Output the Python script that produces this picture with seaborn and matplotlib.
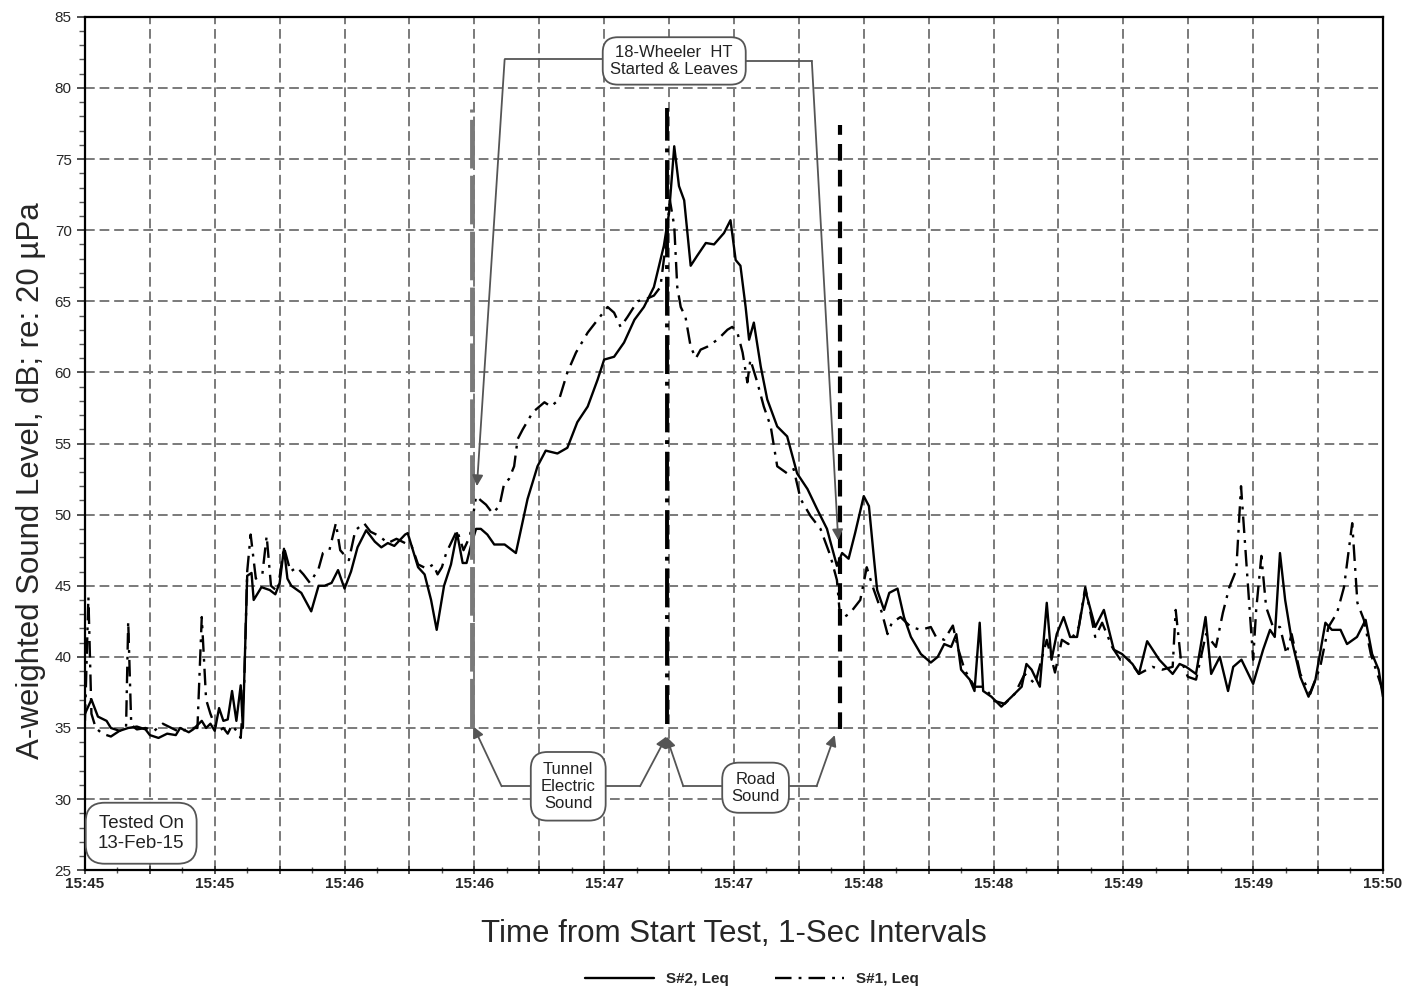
import numpy as np
import pandas as pd
import matplotlib
matplotlib.use("Agg")
import matplotlib.pyplot as plt
import seaborn as sns

# seconds from 15:45:00 and A-weighted level (dB)
s2_time = [0, 1.5, 3, 5, 6, 8, 10, 12, 14, 15, 17, 19, 21, 22, 24, 25, 27, 28, 29, 30,
           31, 32, 33, 34, 35, 36, 36.5, 37.5, 38.5, 39, 40.8, 42.7, 44, 45, 46, 46.8,
           47.7, 50, 52.3, 54, 55.4, 57, 58.5, 60, 61.5, 63, 65, 67, 68.5, 70, 71.5, 74,
           74.6, 77, 78.5, 80, 81.3, 83, 84.6, 86, 87.3, 88.2, 89.2, 90.4, 91.5, 93, 94.6,
           97, 99.6, 102.3, 104.6, 106.5, 109.2, 111.5, 113.8, 116.2, 118.5, 120, 122.3,
           124.6, 127, 129.2, 131.5, 133.8, 135, 136.2, 137.3, 138.5, 140, 141.5, 143.5,
           145.4, 147.7, 149.2, 150.4, 151.5, 152.7, 153.5, 154.6, 156.2, 157.7, 160,
           162.3, 164.6, 167, 169.2, 171.5, 173.8, 175, 176.5, 178, 180, 181.2, 182.4,
           183.1, 184.7, 185.9, 187.8, 189.3, 190.9, 193.2, 195.5, 197.1, 198.6, 200.2,
           201.4, 202.5, 204.5, 205.6, 206.8, 207.6, 209.5, 211.8, 214.2, 216.5, 217.6,
           218.8, 220.7, 222.3, 223.4, 224.6, 226.2, 227.7, 229.3, 231.2, 233.5, 235.5,
           237.8, 239.7, 242.1, 243.6, 245.5, 248.3, 251.4, 253, 254.5, 256.8, 259, 260.3,
           262.3, 264.2, 265.4, 267.3, 270, 272.3, 273.9, 275, 276.2, 277.4, 278.9, 280.9,
           282.8, 284.4, 286.7, 288.2, 290.2, 291.7, 294, 296, 297.5, 299, 300]
s2_level = [36.0, 37.0, 35.8, 35.5, 35.0, 34.8, 35.0, 35.1, 34.9, 34.5, 34.3, 34.6, 34.5,
            35.0, 34.7, 34.9, 35.5, 35.0, 35.3, 34.8, 36.4, 35.5, 35.6, 37.6, 35.5, 38.0,
            35.0, 45.7, 45.9, 44.0, 44.9, 44.7, 44.4, 45.2, 47.6, 45.5, 45.0, 44.5, 43.2,
            45.0, 45.0, 45.2, 46.1, 44.8, 46.0, 47.7, 48.9, 48.1, 47.7, 48.0, 47.8, 48.6,
            48.7, 46.3, 45.8, 44.0, 41.9, 45.0, 46.5, 48.7, 46.6, 46.6, 47.8, 49.0, 49.0,
            48.6, 47.9, 47.9, 47.3, 51.1, 53.4, 54.5, 54.3, 54.7, 56.5, 57.6, 59.5, 60.9,
            61.1, 62.1, 63.7, 64.6, 66.0, 68.9, 71.2, 75.9, 73.1, 72.1, 67.5, 68.2, 69.1,
            69.0, 69.8, 70.7, 67.9, 67.5, 64.6, 62.3, 63.5, 60.4, 58.1, 56.2, 55.5, 52.9,
            51.8, 50.4, 49.0, 46.4, 47.3, 46.9, 48.7, 51.3, 50.6, 46.8, 44.7, 43.3, 44.5,
            44.8, 42.8, 41.4, 40.2, 39.6, 40.0, 40.9, 40.7, 41.6, 39.1, 38.4, 37.6, 42.4,
            37.6, 37.2, 36.5, 37.2, 37.9, 39.5, 39.1, 37.9, 43.8, 39.8, 41.6, 42.8, 41.4,
            41.4, 44.7, 42.1, 43.3, 40.5, 40.2, 39.5, 38.8, 41.1, 39.8, 38.8, 39.5, 39.3,
            38.8, 42.8, 38.8, 40.0, 37.6, 39.3, 39.8, 38.1, 40.5, 41.9, 41.4, 47.3, 44.0,
            41.2, 38.6, 37.2, 38.4, 42.4, 41.9, 41.9, 40.9, 41.4, 42.6, 40.2, 39.1, 37.2]

s1_time = [0, 0.8, 1.5, 2.5, 4, 6, 8, 9.5, 10, 10.7, 12, 14, 16, 18, 20, 22, 24, 26, 27,
           28, 29, 30, 31, 32, 33, 34, 35, 36, 36.8, 37.5, 38.3, 39.5, 41, 42, 43, 44.5,
           46, 47.5, 49, 50.5, 52, 54, 55, 56.5, 58, 59, 61, 62.5, 64.5, 66, 68, 70, 72,
           74, 75.5, 77, 79, 80.5, 81.5, 82.5, 83.5, 86, 87.5, 89, 90.4, 91.5, 92.7, 94.2,
           95.8, 96.9, 98, 99.2, 100, 101.2, 103.5, 106.2, 107.7, 109.6, 111.5, 113.5,
           116.2, 118.5, 120.8, 122.3, 123.8, 125.4, 127.7, 130, 131.5, 133, 134.2, 135.2,
           136.2, 136.9, 137.7, 138.8, 140, 141.2, 142.3, 143.8, 146.2, 148.5, 149.6,
           150.8, 152, 153.1, 153.8, 155.4, 156.9, 158.5, 160, 162.3, 163.8, 165.4, 167.7,
           170, 172.3, 173.8, 174.6, 176.9, 179.2, 180.7, 182, 184.2, 185.5, 186.5, 188.5,
           190.9, 193.2, 195.5, 196.7, 198.6, 200.6, 201.7, 203.3, 205.6, 207.9, 210.2,
           212.6, 214.9, 217.2, 219.6, 222.3, 224.2, 225.8, 227.3, 229.7, 231.2, 233.5,
           235.1, 237.4, 239.3, 241.3, 243.6, 246.7, 249, 251.4, 252.1, 253.3, 254.9,
           256.8, 259.1, 261.4, 263, 264.5, 266.1, 267.2, 268.4, 270, 270.7, 271.9, 273,
           274.6, 276.2, 277.7, 278.9, 280.9, 283.2, 285.5, 287.4, 289.4, 291, 292.9,
           294.1, 295.6, 297.2, 298.7, 300]
s1_level = [35.5, 44.2, 36.0, 35.0, 34.6, 34.4, 34.8, 35.0, 42.5, 35.2, 34.9, 35.0, 34.8,
            35.3, 35.0, 34.7, 35.0, 35.0, 42.8, 37.0, 36.0, 35.2, 34.8, 35.0, 34.6, 35.2,
            34.8, 34.3, 38.0, 46.0, 48.6, 45.5, 45.8, 48.5, 45.0, 44.6, 47.7, 46.0, 46.3,
            45.8, 45.2, 46.2, 47.3, 47.5, 49.4, 47.5, 46.8, 48.9, 49.4, 48.8, 48.5, 48.0,
            48.3, 48.0, 47.8, 46.5, 46.2, 46.5, 45.8, 46.3, 47.3, 48.9, 47.5, 48.5, 51.3,
            51.0, 50.7, 50.1, 50.6, 52.2, 52.5, 53.4, 55.3, 56.0, 57.2, 57.9, 57.6, 58.1,
            60.0, 61.4, 62.8, 63.7, 64.6, 64.2, 63.2, 63.9, 65.0, 65.2, 65.4, 66.0, 68.9,
            72.1, 70.3, 66.0, 64.6, 63.9, 61.8, 61.0, 61.6, 61.8, 62.3, 63.0, 63.2, 62.8,
            61.4, 59.3, 60.9, 59.3, 57.6, 56.2, 53.4, 52.9, 53.2, 51.1, 49.9, 49.0, 47.1,
            45.4, 42.6, 43.1, 44.0, 46.3, 45.0, 43.1, 41.6, 42.4, 42.8, 42.1, 41.9, 42.1,
            41.4, 41.2, 42.2, 40.7, 39.1, 37.9, 37.9, 36.9, 36.7, 37.4, 38.8, 38.1, 41.2,
            38.9, 41.2, 40.9, 42.1, 44.9, 41.4, 42.4, 40.7, 39.8, 39.8, 38.8, 39.3, 39.1,
            39.3, 43.3, 39.8, 38.6, 38.4, 41.6, 40.7, 43.1, 44.9, 46.1, 52.0, 46.8, 39.8,
            43.3, 47.1, 43.5, 42.1, 42.1, 40.2, 41.6, 38.8, 37.4, 39.3, 42.1, 43.1, 44.9,
            49.4, 43.8, 42.6, 40.2, 38.8, 37.6]

tick_labels = ["15:45", "15:45", "15:46", "15:46", "15:47", "15:47",
               "15:48", "15:48", "15:49", "15:49", "15:50"]

# event markers (seconds) and their top levels
event_time = [89.5, 134.5, 174.5]
event_top = [78.5, 78.6, 77.4]

sns.set_theme(style="white")
plt.rcParams['font.family'] = ['Liberation Sans', 'DejaVu Sans']

df = pd.concat([
    pd.DataFrame({'t': s2_time, 'level': s2_level, 'series': 'S#2, Leq'}),
    pd.DataFrame({'t': s1_time, 'level': s1_level, 'series': 'S#1, Leq'}),
])

fig, ax = plt.subplots(figsize=(14.04, 9.9), dpi=100)
fig.subplots_adjust(left=0.0605, right=0.985, top=0.983, bottom=0.121)

sns.lineplot(data=df, x='t', y='level', style='series', color='black',
             dashes={'S#2, Leq': '', 'S#1, Leq': (7, 3, 1.2, 3)},
             linewidth=1.7, ax=ax, zorder=3, estimator=None, sort=False)

# vertical event lines
ax.plot([event_time[0]] * 2, [35.1, event_top[0]], color='#7a7a7a', lw=3.5,
        dashes=(10, 1.5), zorder=4)
ax.plot([event_time[1]] * 2, [35.3, event_top[1]], color='black', lw=2.8,
        dashes=(10, 2, 1, 2), zorder=4)
ax.plot([event_time[2]] * 2, [34.9, event_top[2]], color='black', lw=3,
        dashes=(4, 2.2), zorder=4)

ax.set_xlim(0, 300)
ax.set_ylim(25, 85)
ax.set_xticks(np.arange(0, 301, 15))
ax.set_xticklabels([lab for pair in zip(tick_labels, [''] * 11) for lab in pair][:21],
                   fontsize=11, fontweight='bold')
ax.set_xticks(np.arange(0, 301, 7.5), minor=True)
ax.set_yticks(np.arange(25, 86, 5))
ax.set_yticks(np.arange(25, 86, 1), minor=True)
ax.tick_params(axis='y', which='major', labelsize=11, length=6, width=1.2, direction='out',
               left=True, color='#333')
ax.tick_params(axis='y', which='minor', length=4, width=1, direction='out', left=True,
               color='#555')
ax.tick_params(axis='x', which='major', length=6, width=1.2, direction='inout', bottom=True,
               color='#333', pad=2)
ax.tick_params(axis='x', which='minor', length=4, width=1, direction='inout', bottom=True,
               color='#555')
ax.grid(True, which='major', color='#7a7a7a', linestyle=(0, (5, 2.5)), linewidth=1.4)
for sp in ax.spines.values():
    sp.set_color('black')
    sp.set_linewidth(1.6)

ax.set_xlabel('Time from Start Test, 1-Sec Intervals', fontsize=22.5, labelpad=20)
ax.set_ylabel('A-weighted Sound Level, dB; re: 20 µPa', fontsize=22.5)
ax.yaxis.set_label_coords(-0.03, 0.457)

box = dict(boxstyle='round,pad=0.45,rounding_size=0.9', fc='white', ec='#555', lw=1.3)
arrow = dict(arrowstyle='-|>', color='#555', lw=1.3, mutation_scale=16, shrinkA=0, shrinkB=0)
line_kw = dict(color='#555', lw=1.3, zorder=5)

# top annotation
ax.plot([97, 136], [82.0, 82.0], **line_kw)
ax.plot([136, 168], [81.9, 81.9], **line_kw)
ax.annotate('', xy=(90.6, 52.0), xytext=(97, 82.0), arrowprops=arrow, zorder=5)
ax.annotate('', xy=(174.1, 48.2), xytext=(168, 81.9), arrowprops=arrow, zorder=5)
ax.text(136.2, 81.9, '18-Wheeler  HT\nStarted & Leaves', ha='center', va='center',
        fontsize=12, color='#222', bbox=box, zorder=6, linespacing=1.2)

# bottom annotations
ax.plot([96.3, 128.3], [30.9, 30.9], **line_kw)
ax.plot([138.3, 169.1], [30.9, 30.9], **line_kw)
ax.annotate('', xy=(89.8, 35.1), xytext=(96.3, 30.9), arrowprops=arrow, zorder=5)
ax.annotate('', xy=(134.4, 34.4), xytext=(128.3, 30.9), arrowprops=arrow, zorder=5)
ax.annotate('', xy=(134.4, 34.4), xytext=(138.3, 30.9), arrowprops=arrow, zorder=5)
ax.annotate('', xy=(173.3, 34.5), xytext=(169.1, 30.9), arrowprops=arrow, zorder=5)
ax.text(111.7, 30.9, 'Tunnel\nElectric\nSound', ha='center', va='center', fontsize=12,
        color='#222', bbox=dict(box, boxstyle='round,pad=0.6,rounding_size=1.0'),
        zorder=6, linespacing=1.15)
ax.text(155, 30.8, 'Road\nSound', ha='center', va='center', fontsize=12, color='#222',
        bbox=dict(box, boxstyle='round,pad=0.55,rounding_size=1.0'), zorder=6,
        linespacing=1.15)

ax.text(13, 27.6, 'Tested On\n13-Feb-15', ha='center', va='center', fontsize=13.5,
        color='#222', bbox=dict(box, boxstyle='round,pad=0.65,rounding_size=1.0'),
        zorder=6, clip_on=False, linespacing=1.2)

sns.move_legend(ax, 'lower center', bbox_to_anchor=(0.514, -0.152), ncol=2, frameon=False,
                title=None, fontsize=11, handlelength=4.5, columnspacing=3)
for txt in ax.get_legend().get_texts():
    txt.set_fontweight('bold')

fig.savefig('out.png', dpi=100)
